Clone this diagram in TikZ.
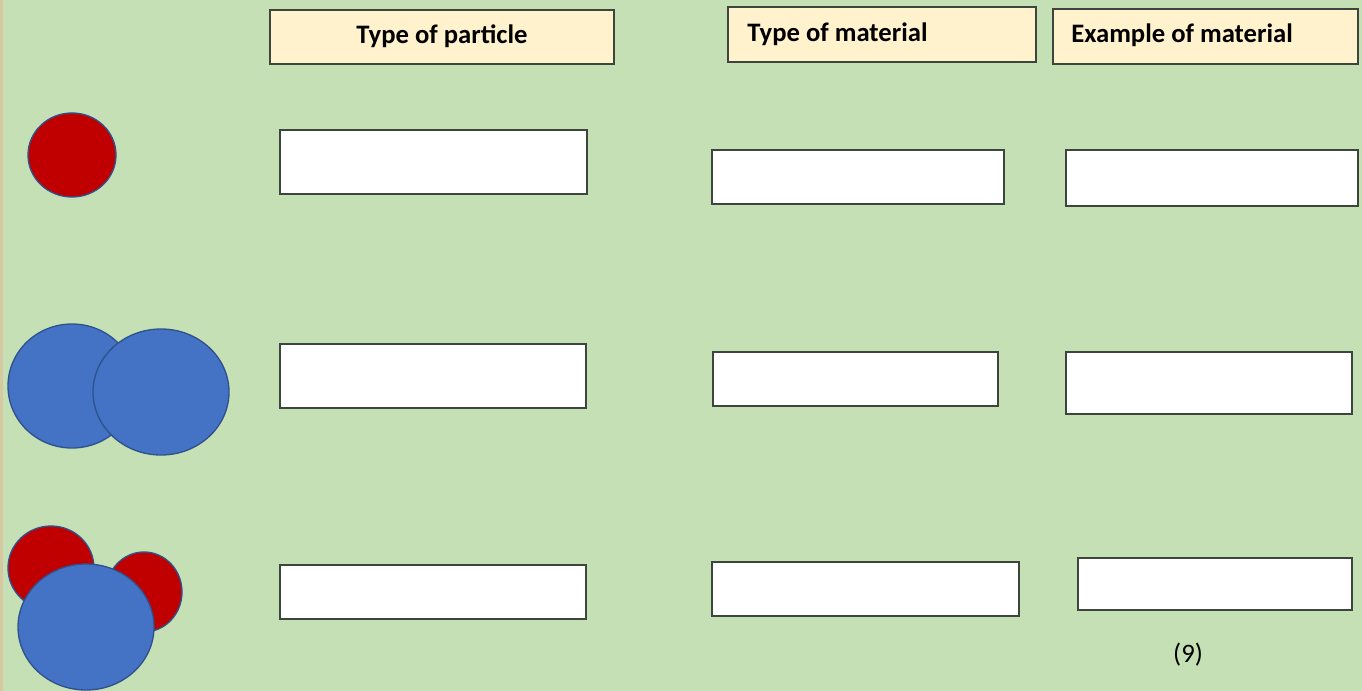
\documentclass[tikz,border=0pt]{standalone}
\usepackage{fontspec}
\setmainfont{Carlito}
\definecolor{bggreen}{RGB}{197,224,180}
\definecolor{headfill}{RGB}{255,242,204}
\definecolor{boxline}{RGB}{60,70,60}
\definecolor{atomred}{RGB}{192,0,0}
\definecolor{atomblue}{RGB}{68,114,196}
\definecolor{atomline}{RGB}{47,82,143}
\definecolor{edgetan}{RGB}{214,200,160}
\tikzset{
  headbox/.style={draw=boxline, fill=headfill, line width=1.1},
  answerbox/.style={draw=boxline, fill=white, line width=1.1},
  redatom/.style={draw=atomline, fill=atomred, line width=1},
  blueatom/.style={draw=atomline, fill=atomblue, line width=1},
  headtext/.style={font=\fontsize{20}{24}\selectfont\bfseries, inner sep=0pt}
}
\begin{document}
\begin{tikzpicture}[x=0.75pt,y=0.75pt,yscale=-1,xscale=1]
\useasboundingbox (0,0) rectangle (1362,691);
\fill[bggreen] (0,0) rectangle (1362,691);
\fill[edgetan] (0,0) rectangle (2.5,691);

%Shape: Rectangle (headers)
\draw[headbox] (270,10) rectangle (614,64);
\draw[headbox] (728,7) rectangle (1036,62);
\draw[headbox] (1053,9) rectangle (1358,64);

%Shape: Rectangle (row 1)
\draw[answerbox] (280,130) rectangle (587,194);
\draw[answerbox] (712,150) rectangle (1004,204);
\draw[answerbox] (1066,150) rectangle (1358,206);
%Shape: Rectangle (row 2)
\draw[answerbox] (280,344) rectangle (586,408);
\draw[answerbox] (713,352) rectangle (998,406);
\draw[answerbox] (1066,352) rectangle (1352,414);
%Shape: Rectangle (row 3)
\draw[answerbox] (280,565) rectangle (586,619);
\draw[answerbox] (712,562) rectangle (1019,616);
\draw[answerbox] (1078,558) rectangle (1352,610);

%Shape: Ellipse (atom)
\draw[redatom] (72,155) ellipse (44 and 42);
%Shape: Ellipse (two atoms)
\draw[blueatom] (72,386) ellipse (64 and 62);
\draw[blueatom] (161,392) ellipse (68 and 63);
%Shape: Ellipse (compound)
\draw[redatom] (51,568) ellipse (43 and 42);
\draw[redatom] (144,592) ellipse (38 and 40);
\draw[blueatom] (86,627) ellipse (68 and 63);

% Text Node
\draw (442,36) node [headtext] (particle) {Type of particle};
% Text Node
\draw (747,34) node [headtext, anchor=west] (material) {Type of material};
% Text Node
\draw (1071,35) node [headtext, anchor=west] (example) {Example of material};
% Text Node
\draw (1188,655) node [font=\fontsize{20}{24}\selectfont, inner sep=0pt] (marks) {(9)};

\end{tikzpicture}
\end{document}
